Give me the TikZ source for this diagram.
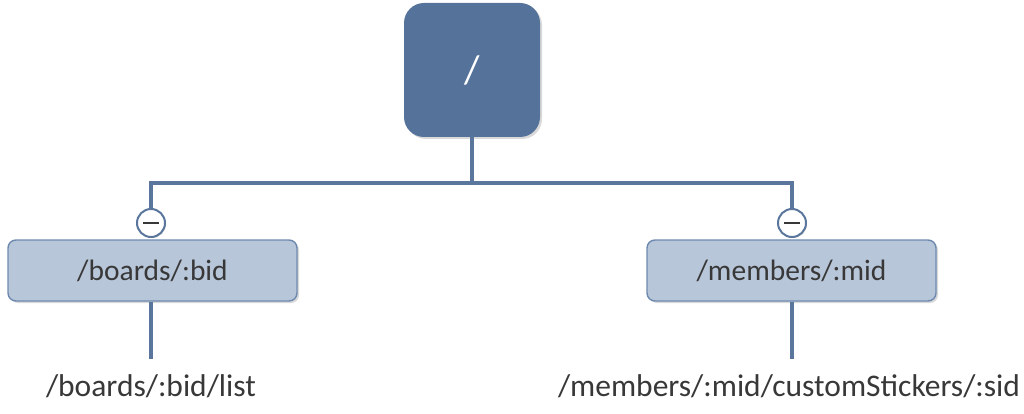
\documentclass[tikz,border=0pt]{standalone}
\usepackage{fontspec}
\setmainfont{Carlito}
\usetikzlibrary{shadows,calc}
\definecolor{rootblue}{HTML}{55729A}
\definecolor{childfill}{HTML}{B8C6D9}
\definecolor{childedge}{HTML}{6E89AF}
\definecolor{linkblue}{HTML}{5A769D}
\definecolor{txtgray}{HTML}{383838}
\tikzset{
  rootbox/.style={draw=none, fill=rootblue, rounded corners=20pt, minimum width=136pt, minimum height=134pt, inner sep=0pt,
    drop shadow={shadow xshift=2pt, shadow yshift=-2pt, opacity=0.3, fill=gray}, text=white, font=\fontsize{40}{48}\selectfont},
  childbox/.style={draw=childedge, line width=1.4pt, fill=childfill, rounded corners=8pt, minimum width=289pt, minimum height=61pt, inner sep=0pt,
    drop shadow={shadow xshift=2pt, shadow yshift=-2pt, opacity=0.3, fill=gray}, text=txtgray, font=\fontsize{29.5}{34}\selectfont},
  toggle/.style={circle, draw=linkblue, line width=2pt, fill=white, minimum size=28pt, inner sep=0pt,
    drop shadow={shadow xshift=1pt, shadow yshift=-1pt, opacity=0.3, fill=gray}},
  leaf/.style={text=txtgray, font=\fontsize{31.5}{36}\selectfont, inner sep=0pt},
  link/.style={draw=linkblue, line width=3.5pt},
  minus/.style={line width=2.6pt, draw=txtgray},
}
\begin{document}
\begin{tikzpicture}[x=1pt,y=-1pt]
\useasboundingbox (0,0) rectangle (1024,414);
\node[rootbox] (root) at (472,70) {/};
\node[childbox] (boards) at (152.5,270.5) {/boards/:bid};
\node[childbox] (members) at (791.5,270.5) {/members/:mid};
\coordinate (hub) at (472,183);
\coordinate (lt) at (151,183);
\coordinate (rt) at (792,183);
\draw[link] (root.south) -- (hub);
\draw[link, line cap=rect] (lt) -- (rt);
\draw[link] (lt) -- (151,210);
\draw[link] (rt) -- (792,210);
\node[toggle] (tl) at (151,223) {};
\node[toggle] (tr) at (792,223) {};
\draw[minus] ($(tl.center)+(-8,0)$) -- ($(tl.center)+(8,0)$);
\draw[minus] ($(tr.center)+(-8,0)$) -- ($(tr.center)+(8,0)$);
\coordinate (lend) at (151,359);
\coordinate (rend) at (792,359);
\draw[link] (boards.south -| lend) -- (lend);
\draw[link] (members.south -| rend) -- (rend);
\node[leaf] (leafl) at (151,386) {/boards/:bid/list};
\node[leaf] (leafr) at (789,386) {/members/:mid/customStickers/:sid};
\end{tikzpicture}
\end{document}
